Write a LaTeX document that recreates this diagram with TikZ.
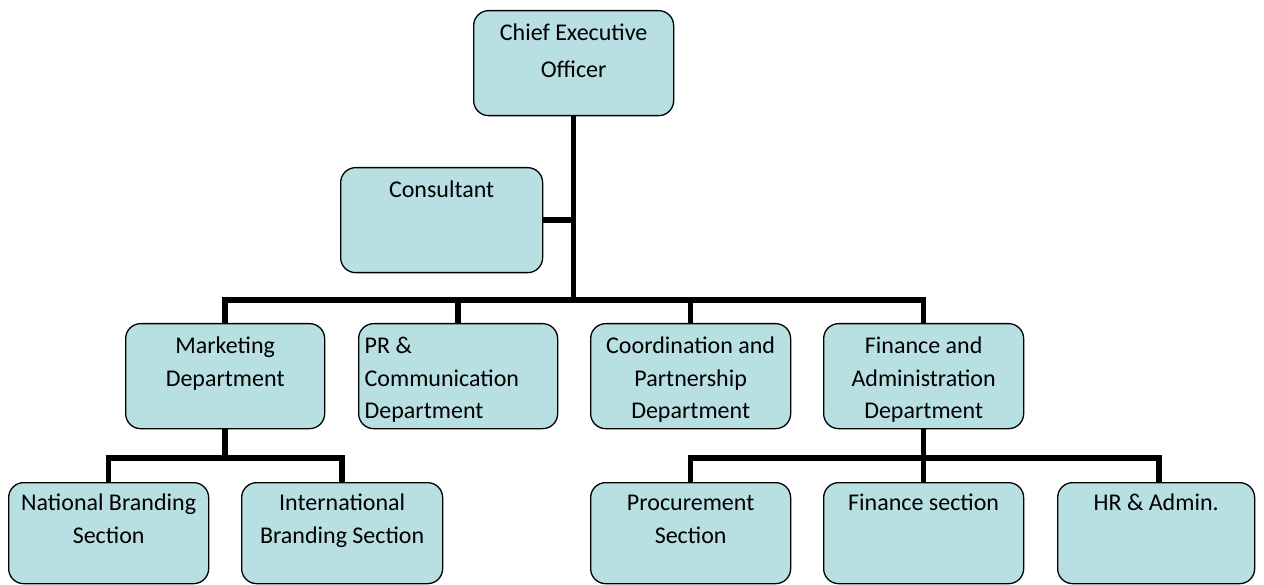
\documentclass[tikz,border=0pt]{standalone}
\usepackage{fontspec}
\setmainfont{Carlito}
\usetikzlibrary{backgrounds}
\definecolor{boxfill}{RGB}{184,223,226}
\newcommand{\bxt}[4]{\parbox[c][#2pt][t]{#1pt}{\fontsize{24}{32.5}\selectfont\centering\rule{0pt}{#3pt}#4}}
\tikzset{
  box/.style={draw=black, line width=1.3pt, rounded corners=15pt, fill=boxfill, inner sep=0pt, anchor=north west},
  conn/.style={draw=black, line width=5.5pt, line join=miter}
}
\begin{document}
\begin{tikzpicture}[x=1pt,y=-1pt]
\useasboundingbox (0,0) rectangle (1264,585);
\node[box] (ceo) at (473,10) {\bxt{200}{105}{30}{Chief Executive\\[4.5pt]Officer}};
\node[box] (cons) at (340,167) {\bxt{202}{105}{30}{Consultant}};
\node[box] (mkt) at (125,323) {\bxt{199}{105}{30}{Marketing\\Department}};
\node[box] (pr) at (358,323) {\parbox[c][105pt][t]{199pt}{\fontsize{24}{32.5}\selectfont\raggedright\hspace*{6pt}\rule{0pt}{30pt}PR \&\\\hspace*{6pt}Communication\\\hspace*{6pt}Department}};
\node[box] (coord) at (590,323) {\bxt{200}{105}{30}{Coordination and\\Partnership\\Department}};
\node[box] (fin) at (823,323) {\bxt{200}{105}{30}{Finance and\\Administration\\Department}};
\node[box] (nat) at (8,482) {\bxt{200}{101}{28}{National Branding\\Section}};
\node[box] (intl) at (241,482) {\bxt{201}{101}{28}{International\\Branding Section}};
\node[box] (proc) at (590,482) {\bxt{200}{101}{28}{Procurement\\Section}};
\node[box] (finsec) at (823,482) {\bxt{200}{101}{28}{Finance section}};
\node[box] (hr) at (1057,482) {\bxt{197}{101}{28}{HR \& Admin.}};
\coordinate (busy) at (0,300);
\coordinate (mbus) at (0,458);
\coordinate (hrtop) at (1159,482);
\begin{scope}[on background layer]
\draw[conn] (ceo.south) -- (ceo.south |- busy);
\draw[conn] (cons.east) -- (ceo.south |- cons.east);
\draw[conn] (mkt.north) -- (mkt.north |- busy) -- (fin.north |- busy) -- (fin.north);
\draw[conn] (pr.north |- busy) -- (pr.north);
\draw[conn] (coord.north |- busy) -- (coord.north);
\draw[conn] (mkt.south) -- (mkt.south |- mbus);
\draw[conn] (nat.north) -- (nat.north |- mbus) -- (intl.north |- mbus) -- (intl.north);
\draw[conn] (fin.south) -- (fin.south |- mbus);
\draw[conn] (proc.north) -- (proc.north |- mbus) -- (hrtop |- mbus) -- (hrtop);
\draw[conn] (finsec.north |- mbus) -- (finsec.north);
\end{scope}
\end{tikzpicture}
\end{document}
